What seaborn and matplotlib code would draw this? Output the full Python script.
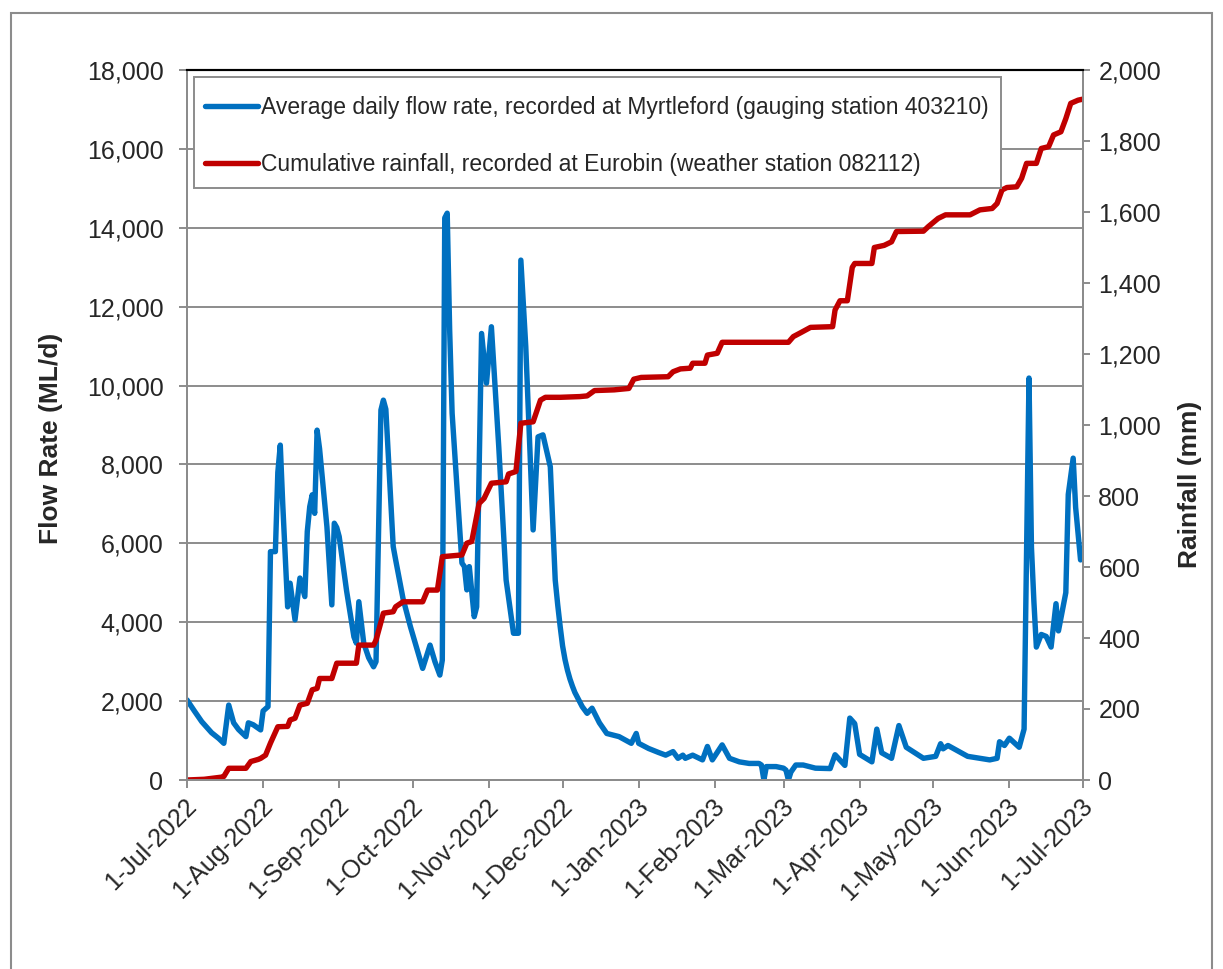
import matplotlib

matplotlib.use("Agg")
import matplotlib.pyplot as plt
import matplotlib.dates as mdates
import matplotlib.transforms as mtransforms
from matplotlib.patches import Rectangle
from matplotlib.ticker import FuncFormatter, MultipleLocator
import pandas as pd
import seaborn as sns

# Days since 1-Jul-2022
flow_day = [0, 3, 6, 10, 13, 15, 17, 19, 21, 24, 25, 27, 30, 31, 33, 34, 36, 37, 38, 39,
            41, 42, 44, 46, 48, 49, 50, 51, 52, 53, 54, 57, 59, 60, 61, 62, 65, 68, 69, 70,
            72, 74, 76, 77, 79, 80, 81, 84, 85, 88, 91, 96, 99, 101, 103, 104, 105, 106, 107, 108,
            112, 113, 114, 115, 117, 118, 120, 122, 124, 127, 130, 133, 135, 136, 138, 141, 143, 145, 148, 150,
            151, 152, 153, 154, 155, 156, 157, 158, 160, 161, 163, 165, 168, 171, 176, 181, 183, 184, 188, 192,
            195, 198, 200, 202, 203, 206, 210, 212, 214, 218, 221,
            225, 229, 233, 234, 235, 236, 240, 243, 244, 245, 246, 248, 251, 256, 262, 264, 268, 270, 272, 274,
            279, 281, 283, 287, 290, 293, 300, 305, 307, 308, 310, 318, 323, 327, 330, 331, 333, 335, 339, 341,
            343, 344, 345, 346, 348, 350, 352, 354, 355, 358, 359, 361, 362, 364]
flow_mld = [2030, 1750, 1480, 1200, 1050, 930, 1900, 1450, 1280, 1100, 1450, 1400, 1270, 1750, 1860, 5790, 5790, 7800, 8490, 7000,
            4390, 4990, 4060, 5120, 4650, 6300, 6930, 7230, 6760, 8870, 8400, 6420, 4440, 6510, 6400, 6170, 4800, 3630, 3470, 4520,
            3470, 3100, 2870, 3000, 9380, 9630, 9400, 5920, 5580, 4600, 3890, 2830, 3420, 3000, 2660, 3040, 14250, 14370, 11400, 9300,
            5500, 5410, 4820, 5410, 4140, 4390, 11320, 10060, 11490, 8450, 5070, 3720, 3720, 13180, 10990, 6340, 8700, 8750, 7940, 5070,
            4450, 3900, 3400, 3050, 2780, 2560, 2380, 2220, 1980, 1860, 1690, 1820, 1450, 1180, 1100, 930, 1180, 930, 800, 700,
            630, 720, 550, 630, 550, 630, 510, 850, 510, 890, 550,
            460, 420, 420, 380, 0, 340, 340, 300, 250, 0, 200, 380, 380, 300, 290, 640, 370, 1570, 1430, 650,
            460, 1290, 690, 550, 1380, 830, 550, 600, 920, 790, 875, 600, 550, 510, 550, 970, 875, 1060, 830, 1290,
            10190, 5900, 4520, 3370, 3690, 3640, 3370, 4470, 3780, 4750, 7240, 8160, 6910, 5580]

rain_day = [0, 7, 14, 15, 17, 24, 26, 29, 30, 32, 34, 37, 41, 42, 44, 46, 49, 51, 53, 54,
            59, 61, 69, 70, 76, 77, 80, 84, 85, 88, 96, 98, 102, 104, 112, 114, 116, 119, 121, 124,
            130, 131, 134, 136, 141, 144, 146, 152, 160, 163, 166, 174, 180, 182, 185, 196, 198, 201, 205, 206,
            211, 212, 216, 218, 245, 247, 250, 254, 263, 264, 266, 269, 271, 272, 279, 280, 284, 287, 289, 300,
            302, 306, 309, 319, 323, 328, 330, 332, 334, 338, 340, 342, 346, 348, 351, 353, 356, 358, 360, 363,
            365]
rain_mm = [0, 2, 8, 10, 33, 33, 52, 58, 61, 70, 104, 150, 151, 169, 174, 211, 216, 254, 258, 286,
           286, 329, 329, 380, 380, 394, 470, 474, 488, 502, 502, 535, 535, 629, 634, 667, 672, 779, 793, 836,
           840, 862, 869, 1005, 1009, 1070, 1078, 1078, 1080, 1082, 1097, 1099, 1103, 1129, 1134, 1136, 1150, 1158, 1160, 1174,
           1174, 1197, 1202, 1233, 1233, 1249, 1260, 1275, 1277, 1324, 1350, 1350, 1444, 1455, 1455, 1500, 1506, 1516, 1545, 1546,
           1559, 1582, 1592, 1592, 1606, 1610, 1624, 1662, 1669, 1671, 1695, 1737, 1737, 1779, 1784, 1817, 1826, 1863, 1906, 1915,
           1918]

flow_label = "Average daily flow rate, recorded at Myrtleford (gauging station 403210)"
rain_label = "Cumulative rainfall, recorded at Eurobin (weather station 082112)"

start = pd.Timestamp("2022-07-01")
end = pd.Timestamp("2023-07-01")
flow_df = pd.DataFrame({"date": start + pd.to_timedelta(flow_day, unit="D"), "flow": flow_mld})
rain_df = pd.DataFrame({"date": start + pd.to_timedelta(rain_day, unit="D"), "rain": rain_mm})

BLUE = "#0070C0"
RED = "#C00000"
GREY = "#8C8C8C"

sns.set_style("white")
plt.rcParams["font.family"] = ["Liberation Sans", "DejaVu Sans"]

fig = plt.figure(figsize=(12.23, 9.69), dpi=100)
ax = fig.add_axes([187 / 1223, 1 - 780 / 969, 896 / 1223, 710 / 969])
ax2 = ax.twinx()

sns.lineplot(data=flow_df, x="date", y="flow", ax=ax, color=BLUE, lw=3.9, legend=False)
sns.lineplot(data=rain_df, x="date", y="rain", ax=ax2, color=RED, lw=3.9, legend=False)

ax.set_xlim(start, end)
ax.set_ylim(0, 18000)
ax2.set_ylim(0, 2000)
ax.yaxis.set_major_locator(MultipleLocator(2000))
ax2.yaxis.set_major_locator(MultipleLocator(200))
comma = FuncFormatter(lambda v, p: f"{v:,.0f}")
ax.yaxis.set_major_formatter(comma)
ax2.yaxis.set_major_formatter(comma)

ax.xaxis.set_major_locator(mdates.MonthLocator())
ax.xaxis.set_major_formatter(
    FuncFormatter(lambda v, p: (lambda d: f"{d.day}-{d.strftime('%b-%Y')}")(mdates.num2date(v)))
)

ax.grid(axis="y", color=GREY, lw=1.4)
ax.set_axisbelow(True)
ax.set_xlabel("")
ax.set_ylabel("")
ax2.set_ylabel("")

for a in (ax, ax2):
    for side in ("left", "right", "bottom"):
        a.spines[side].set_color(GREY)
        a.spines[side].set_linewidth(1.4)
    a.spines["top"].set_color("black")
    a.spines["top"].set_linewidth(1.5)

ax.tick_params(axis="y", direction="out", length=6, width=1.4, color=GREY, pad=11, labelsize=18, left=True)
ax.tick_params(axis="x", direction="out", length=6, width=1.4, color=GREY, pad=10, labelsize=18, bottom=True)
ax2.tick_params(axis="y", direction="out", length=5, width=1.4, color=GREY, pad=6, labelsize=18, right=True)

offset = mtransforms.ScaledTranslation(6 / 100, 0, fig.dpi_scale_trans)
for lbl in ax.get_xticklabels():
    lbl.set_rotation(45)
    lbl.set_ha("right")
    lbl.set_va("center")
    lbl.set_rotation_mode("anchor")
    lbl.set_transform(lbl.get_transform() + offset)

# legend box drawn separately so its size matches the original
ax2.add_patch(Rectangle((7 / 896, (780 - 188) / 710), 807 / 896, 111 / 710,
                        transform=ax2.transAxes, facecolor="white", edgecolor=GREY,
                        lw=1.4, zorder=4))
handles = [ax.get_lines()[0], ax2.get_lines()[0]]
leg = ax2.legend(
    handles, [flow_label, rain_label],
    loc="upper left", bbox_to_anchor=(18 / 896, (780 - 96) / 710), borderaxespad=0,
    fontsize=16.5, frameon=False, borderpad=0,
    handlelength=2.3, handletextpad=0.15, labelspacing=1.5,
)
leg.set_zorder(5)

fig.text(51 / 1223, 1 - 438 / 969, "Flow Rate (ML/d)", rotation=90, fontsize=19,
         fontweight="bold", ha="center", va="center")
fig.text(1190 / 1223, 1 - 484 / 969, "Rainfall (mm)", rotation=90, fontsize=19,
         fontweight="bold", ha="center", va="center")

fig.patches.append(Rectangle((11 / 1223, -0.05), 1201 / 1223, 1.05 - 13 / 969,
                             transform=fig.transFigure, fill=False, edgecolor=GREY, lw=1.5))

fig.savefig("out.png", dpi=100)
